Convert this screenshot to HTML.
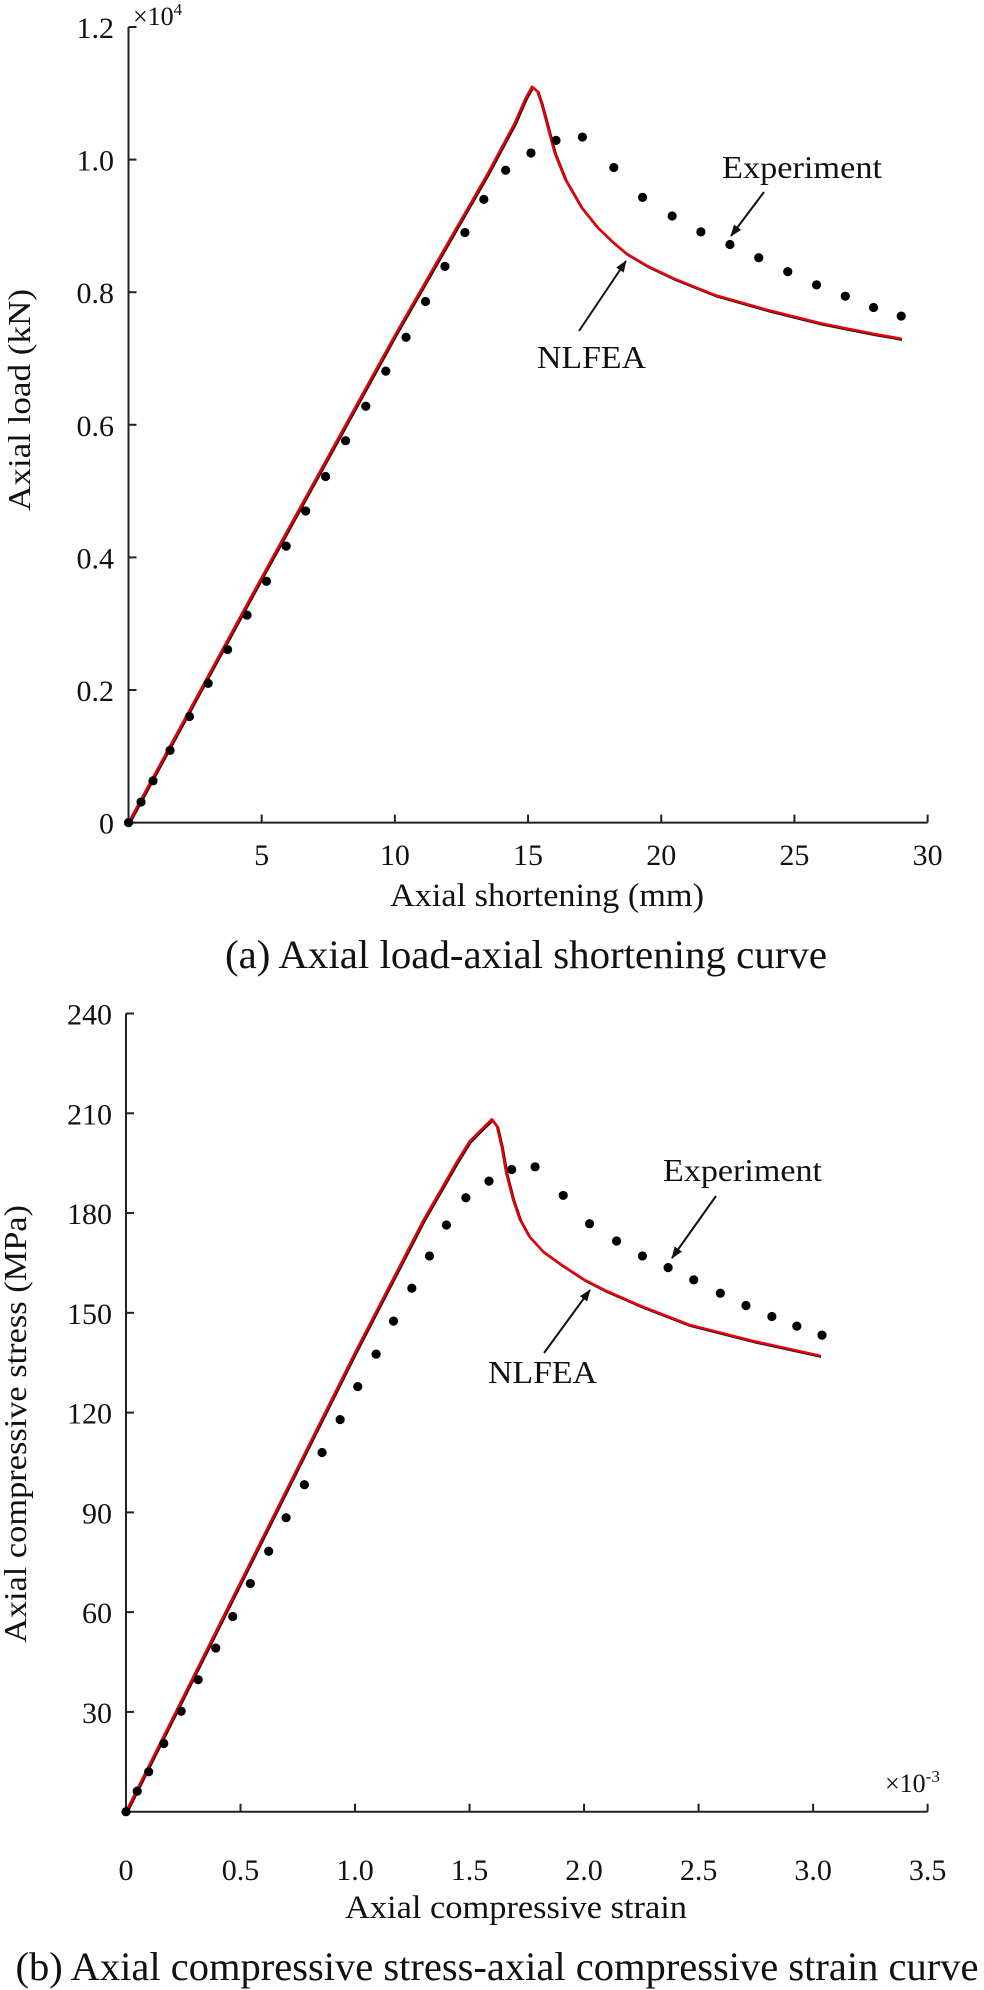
<!DOCTYPE html>
<html><head><meta charset="utf-8"><style>
html,body{margin:0;padding:0;background:#fff}
svg{display:block}
text{font-family:"Liberation Serif",serif;fill:#111}
</style></head><body>
<svg id="fig" width="984" height="1990" viewBox="0 0 984 1990" xmlns="http://www.w3.org/2000/svg">
<g id="chartA"></g>
<g id="chartB"></g>
</svg>
<script>
// ---- Chart (a) data ----
const aExpX=[0,0.47,0.92,1.56,2.29,2.99,3.72,4.45,5.18,5.92,6.65,7.40,8.15,8.91,9.66,10.42,11.15,11.88,12.63,13.34,14.16,15.11,16.05,17.04,18.22,19.30,20.41,21.49,22.58,23.66,24.75,25.83,26.91,27.97,29.01];
const aExpY=[0,0.031,0.063,0.109,0.160,0.210,0.261,0.313,0.364,0.417,0.470,0.522,0.576,0.628,0.681,0.732,0.786,0.839,0.890,0.940,0.984,1.010,1.029,1.034,0.988,0.943,0.915,0.891,0.872,0.852,0.831,0.811,0.794,0.777,0.764];
const aFeaX=[0,5,10,12,13.5,14.5,14.9,15.15,15.35,15.5,15.7,16.0,16.4,17.0,17.6,18.2,18.7,19.5,20.5,22,24,26,28,29];
const aFeaY=[0,0.37,0.735,0.875,0.98,1.055,1.092,1.11,1.103,1.085,1.055,1.01,0.97,0.928,0.898,0.875,0.858,0.839,0.82,0.796,0.773,0.753,0.737,0.730];
const aXTicks=[5,10,15,20,25,30];
const aYTicks=[0,0.2,0.4,0.6,0.8,1.0,1.2];
const aYLabels=["0","0.2","0.4","0.6","0.8","1.0","1.2"];
// ---- Chart (b) data ----
const bExpX=[0,0.049,0.099,0.165,0.241,0.315,0.392,0.466,0.543,0.623,0.699,0.779,0.856,0.935,1.012,1.092,1.168,1.248,1.325,1.399,1.484,1.585,1.684,1.786,1.909,2.024,2.142,2.255,2.367,2.479,2.595,2.707,2.820,2.929,3.039];
const bExpY=[0,6.2,12.0,20.5,30.2,39.7,49.2,58.7,68.6,78.3,88.4,98.3,108.0,117.9,127.8,137.6,147.5,157.4,167.1,176.4,184.6,189.6,193.1,193.9,185.3,176.8,171.6,167.1,163.6,159.9,155.9,152.2,148.9,146.0,143.3];
const bFeaX=[0,0.5,1.0,1.3,1.45,1.5,1.55,1.597,1.62,1.64,1.66,1.69,1.72,1.76,1.82,1.9,2.0,2.1,2.25,2.46,2.74,3.03];
const bFeaY=[0,69,138,178,196,201.5,205,208.2,206,200,192,184,178,173,168.5,164.5,160,156.5,152,146.4,141.5,137.1];
const bXTicks=[0,0.5,1.0,1.5,2.0,2.5,3.0,3.5];
const bXLabels=["0","0.5","1.0","1.5","2.0","2.5","3.0","3.5"];
const bYTicks=[30,60,90,120,150,180,210,240];

const NS="http://www.w3.org/2000/svg";
function mk(parent,tag,attrs,txt){const e=document.createElementNS(NS,tag);for(const k in attrs)e.setAttribute(k,attrs[k]);if(txt!==undefined)e.textContent=txt;parent.appendChild(e);return e;}

function drawChart(g,o){
  const sx=v=>o.x0+(v-o.xmin)/(o.xmax-o.xmin)*(o.x1-o.x0);
  const sy=v=>o.y0-(v-o.ymin)/(o.ymax-o.ymin)*(o.y0-o.y1);
  const ya=mk(g,'line',{x1:o.x0,y1:o.y0,x2:o.x0,y2:o.y1,stroke:'#222','stroke-width':2});
  
  
  const xa=mk(g,'line',{x1:o.x0,y1:o.y0,x2:o.x1,y2:o.y0,stroke:'#222','stroke-width':2});
  
  
  o.xt.forEach((v,i)=>{
    const x=sx(v);
    if(v!==o.xmin){const t=mk(g,'line',{x1:x,y1:o.y0,x2:x,y2:o.y0-8,stroke:'#222','stroke-width':2});
    
    }
    const l=mk(g,'text',{x:x,y:o.xlabY,'font-size':30,'text-anchor':'middle'},o.xl[i]);
    
    
  });
  o.yt.forEach((v,i)=>{
    const y=sy(v);
    const t=mk(g,'line',{x1:o.x0,y1:y,x2:o.x0+8,y2:y,stroke:'#222','stroke-width':2});
    
    
    const l=mk(g,'text',{x:o.ylabX,y:y+11,'font-size':30,'text-anchor':'end'},o.yl[i]);
    
    
  });
  const pts=o.fx.map((v,i)=>sx(v).toFixed(1)+','+sy(o.fy[i]).toFixed(1)).join(' ');
  const lb=mk(g,'polyline',{points:pts,fill:'none',stroke:'#111','stroke-width':2.5,transform:'translate(1,1)','stroke-linejoin':'round'});
  
  
  const lr=mk(g,'polyline',{points:pts,fill:'none',stroke:'#e8000b','stroke-width':2.5,'stroke-linejoin':'round'});
  
  
  o.ex.forEach((v,i)=>{
    const c=mk(g,'circle',{cx:sx(v),cy:sy(o.ey[i]),r:4.6,fill:'#000'});
    
    
  });
}

const A=document.getElementById('chartA'), B=document.getElementById('chartB');
drawChart(A,{x0:128.5,x1:927.6,xmin:0,xmax:30,y0:822.6,y1:27,ymin:0,ymax:1.2,
  xt:aXTicks,xl:aXTicks.map(String),yt:aYTicks,yl:aYLabels,xlabY:865,ylabX:114,
  fx:aFeaX,fy:aFeaY,ex:aExpX,ey:aExpY});
drawChart(B,{x0:126,x1:927.6,xmin:0,xmax:3.5,y0:1811.7,y1:1013.5,ymin:0,ymax:240,
  xt:bXTicks,xl:bXLabels,yt:bYTicks,yl:bYTicks.map(String),xlabY:1880,ylabX:112,
  fx:bFeaX,fy:bFeaY,ex:bExpX,ey:bExpY});
</script>
<svg width="984" height="1990" viewBox="0 0 984 1990" style="position:absolute;left:0;top:0">
<defs><marker id="ah2" markerWidth="12" markerHeight="9" refX="11" refY="4.5" orient="auto" markerUnits="userSpaceOnUse"><path d="M0,0 L12,4.5 L0,9 Z" fill="#111"/></marker></defs>
<text x="133" y="25" font-size="26" style="font-family:'Liberation Serif',serif">×10<tspan font-size="17" dy="-10">4</tspan></text>
<text x="30" y="400" font-size="32" text-anchor="middle" transform="rotate(-90 30 400)" textLength="222" lengthAdjust="spacingAndGlyphs" style="font-family:'Liberation Serif',serif">Axial load (kN)</text>
<text x="547" y="906" font-size="33" text-anchor="middle" textLength="314" lengthAdjust="spacingAndGlyphs" style="font-family:'Liberation Serif',serif">Axial shortening (mm)</text>
<text x="526" y="968" font-size="40" text-anchor="middle" textLength="602" lengthAdjust="spacingAndGlyphs" style="font-family:'Liberation Serif',serif">(a) Axial load-axial shortening curve</text>
<text x="722" y="178" font-size="32" textLength="160" lengthAdjust="spacingAndGlyphs" style="font-family:'Liberation Serif',serif">Experiment</text>
<line x1="764" y1="192" x2="731" y2="236" stroke="#111" stroke-width="2" marker-end="url(#ah2)"/>
<text x="537" y="368" font-size="32" textLength="109" lengthAdjust="spacingAndGlyphs" style="font-family:'Liberation Serif',serif">NLFEA</text>
<line x1="579" y1="331" x2="626" y2="261" stroke="#111" stroke-width="2" marker-end="url(#ah2)"/>

<text x="885" y="1792" font-size="26" style="font-family:'Liberation Serif',serif">×10<tspan font-size="17" dy="-10">-3</tspan></text>
<text x="26" y="1424" font-size="32" text-anchor="middle" transform="rotate(-90 26 1424)" textLength="438" lengthAdjust="spacingAndGlyphs" style="font-family:'Liberation Serif',serif">Axial compressive stress (MPa)</text>
<text x="516" y="1918" font-size="33" text-anchor="middle" textLength="342" lengthAdjust="spacingAndGlyphs" style="font-family:'Liberation Serif',serif">Axial compressive strain</text>
<text x="497" y="1980" font-size="40" text-anchor="middle" textLength="963" lengthAdjust="spacingAndGlyphs" style="font-family:'Liberation Serif',serif">(b) Axial compressive stress-axial compressive strain curve</text>
<text x="663" y="1181" font-size="32" textLength="159" lengthAdjust="spacingAndGlyphs" style="font-family:'Liberation Serif',serif">Experiment</text>
<line x1="716" y1="1196" x2="672" y2="1258" stroke="#111" stroke-width="2" marker-end="url(#ah2)"/>
<text x="488" y="1383" font-size="32" textLength="109" lengthAdjust="spacingAndGlyphs" style="font-family:'Liberation Serif',serif">NLFEA</text>
<line x1="544" y1="1353" x2="590" y2="1290" stroke="#111" stroke-width="2" marker-end="url(#ah2)"/>
</svg>
</body></html>
